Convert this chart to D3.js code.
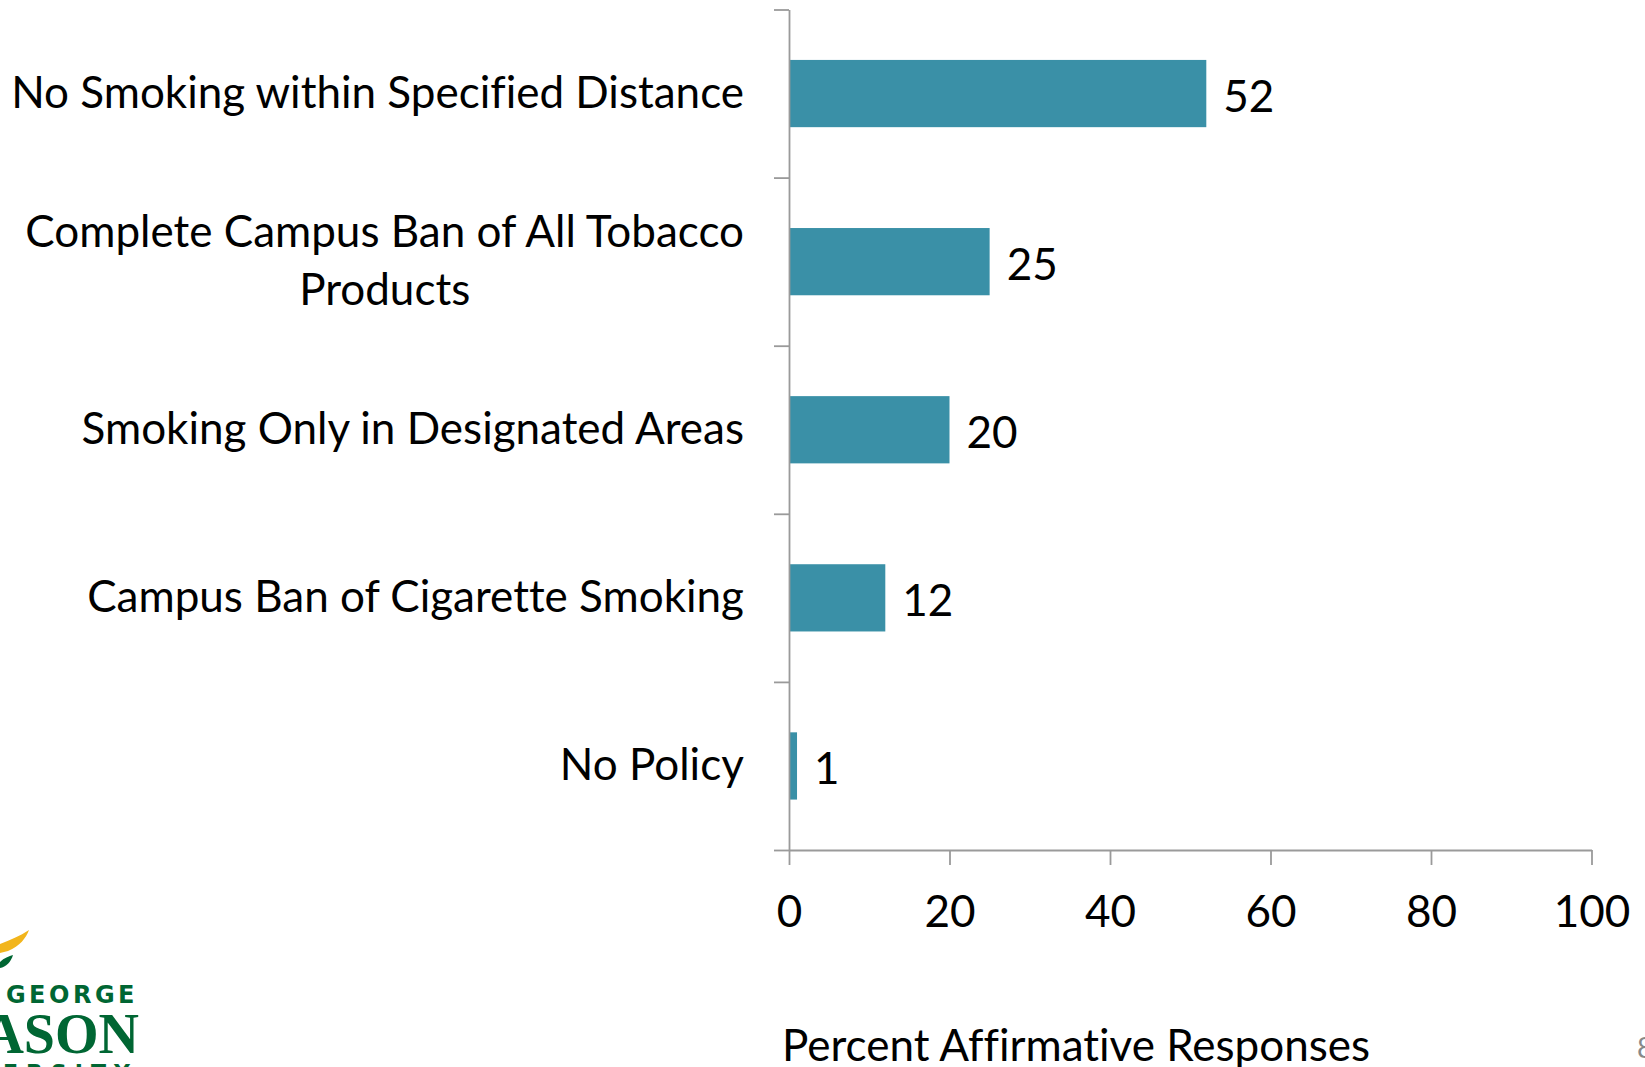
<!DOCTYPE html>
<html>
<head>
<meta charset="utf-8">
<script src="https://cdn.jsdelivr.net/npm/d3@7"></script>
<style>
  html, body { margin: 0; padding: 0; background: #fff; overflow: hidden; }
  svg { display: block; }
  text { font-family: Lato, "Open Sans", sans-serif; fill: #000; font-variant-ligatures: none; font-feature-settings: "liga" 0, "clig" 0; }
</style>
</head>
<body>
<svg id="chart" width="1645" height="1067"></svg>
<script>
// ---- data ----
const categories = [
  ["No Smoking within Specified Distance"],
  ["Complete Campus Ban of All Tobacco", "Products"],
  ["Smoking Only in Designated Areas"],
  ["Campus Ban of Cigarette Smoking"],
  ["No Policy"]
];
const values = [52, 25, 20, 12, 1];
const xTicks = [0, 20, 40, 60, 80, 100];
const axisTitle = "Percent Affirmative Responses";
const pageNumber = "8";

// ---- layout ----
const plotLeft = 789, plotRight = 1591.5, plotTop = 9.5, plotBottom = 850;
const fontSize = 44;
const barColor = "#3a90a7";
const axisColor = "#9a9a9a";

const svg = d3.select("#chart");

const keys = categories.map((c, i) => "c" + i);
const x = d3.scaleLinear().domain([0, 100]).range([plotLeft, plotRight]);
const y = d3.scaleBand().domain(keys).range([plotTop, plotBottom]).paddingInner(0.6).paddingOuter(0.3);
const yEdge = d3.scaleLinear().domain([0, keys.length]).range([plotTop, plotBottom]);

// bars
svg.append("g").selectAll("rect").data(values).join("rect")
  .attr("x", x(0) + 1)
  .attr("y", (d, i) => y(keys[i]))
  .attr("width", d => x(d) - x(0) - 1)
  .attr("height", y.bandwidth())
  .attr("fill", barColor);

// y axis (ticks at category boundaries)
const yAxis = svg.append("g").attr("transform", `translate(${x(0)},0)`)
  .call(d3.axisLeft(yEdge).tickValues(d3.range(keys.length + 1)).tickFormat("").tickSize(15).tickSizeOuter(0));
// x axis
const xAxis = svg.append("g").attr("transform", `translate(0,${plotBottom})`)
  .call(d3.axisBottom(x).tickValues(xTicks).tickSize(15).tickSizeOuter(0).tickPadding(31));
[yAxis, xAxis].forEach(g => {
  g.select(".domain").attr("stroke", axisColor).attr("stroke-width", 1.8);
  g.selectAll(".tick line").attr("stroke", axisColor).attr("stroke-width", 1.8);
});
xAxis.selectAll(".tick text")
  .style("font-family", "Lato, sans-serif")
  .attr("font-size", fontSize).attr("fill", "#000");

// category labels
const lineH = 58;
const lab = svg.append("g").selectAll("text").data(categories).join("text")
  .attr("text-anchor", "middle")
  .attr("font-size", fontSize)
  .attr("y", (d, i) => y(keys[i]) + y.bandwidth() / 2 - 3);
lab.each(function(lines) {
  const t = d3.select(this);
  const n = lines.length;
  lines.forEach((ln, j) => {
    t.append("tspan").attr("x", 0)
      .attr("dy", j === 0 ? ((-(n - 1) / 2) * lineH) : lineH)
      .attr("dominant-baseline", "central")
      .text(ln);
  });
});
lab.each(function() {
  const w = this.getBBox().width;
  d3.select(this).attr("transform", `translate(${744 - w / 2},0)`);
});

// value labels
svg.append("g").selectAll("text").data(values).join("text")
  .attr("x", d => x(d) + 17)
  .attr("y", (d, i) => y(keys[i]) + y.bandwidth() / 2 + 1)
  .attr("dominant-baseline", "central")
  .attr("font-size", fontSize)
  .text(d => d);

// axis title
svg.append("text")
  .attr("x", 782).attr("y", 1044)
  .attr("dominant-baseline", "central")
  .attr("font-size", fontSize)
  .text(axisTitle);

// page number
svg.append("text")
  .attr("x", 1637).attr("y", 1058)
  .attr("font-size", 28)
  .style("fill", "#888")
  .text(pageNumber);

// logo (partially visible)
const logo = svg.append("g");
logo.append("path")
  .attr("d", "M0,944 C10,940 20,936 29,930 C26,938 20,946 8,951 L0,953 Z")
  .attr("fill", "#f2b51c");
logo.append("path")
  .attr("d", "M0,962 C4,958 9,956 13,955 C11,962 6,967 0,968 Z")
  .attr("fill", "#006633");
logo.append("text")
  .attr("x", 138).attr("y", 1003)
  .attr("text-anchor", "end")
  .attr("font-size", 24).attr("font-weight", 700)
  .attr("letter-spacing", 3.5)
  .style("font-family", "'DejaVu Sans', sans-serif")
  .style("fill", "#006633")
  .text("GEORGE");
logo.append("text")
  .attr("x", 139).attr("y", 1053)
  .attr("text-anchor", "end")
  .attr("font-size", 56).attr("font-weight", 700)
  .style("font-family", "'Liberation Serif', serif")
  .style("fill", "#006633")
  .text("MASON");
logo.append("text")
  .attr("x", 138).attr("y", 1080)
  .attr("text-anchor", "end")
  .attr("font-size", 22).attr("font-weight", 700)
  .attr("letter-spacing", 8)
  .style("font-family", "'DejaVu Sans', sans-serif")
  .style("fill", "#006633")
  .text("UNIVERSITY");
</script>
</body>
</html>
